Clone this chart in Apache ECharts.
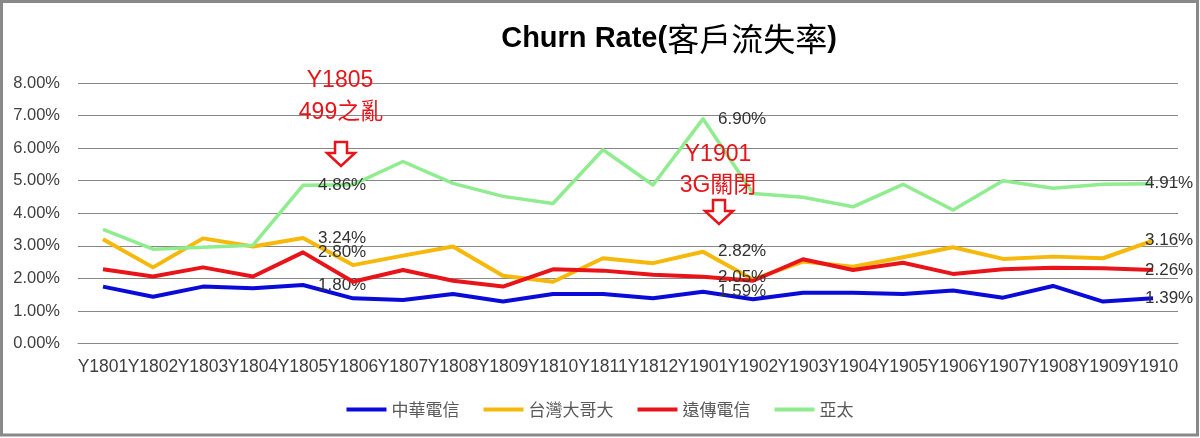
<!DOCTYPE html>
<html>
<head>
<meta charset="utf-8">
<script src="https://cdn.jsdelivr.net/npm/echarts@6/dist/echarts.min.js"></script>
<style>
  html, body { margin: 0; padding: 0; background: #fff; }
  #chart { width: 1200px; height: 438px; }
</style>
</head>
<body>
<div id="chart"></div>
<script>
// Monthly churn rate (%) per operator
const categories = ['Y1801','Y1802','Y1803','Y1804','Y1805','Y1806','Y1807','Y1808','Y1809','Y1810','Y1811',
                    'Y1812','Y1901','Y1902','Y1903','Y1904','Y1905','Y1906','Y1907','Y1908','Y1909','Y1910'];
const seriesNames = ['中華電信', '台灣大哥大', '遠傳電信', '亞太'];
const cht  = [1.75, 1.44, 1.75, 1.70, 1.80, 1.39, 1.34, 1.52, 1.29, 1.52, 1.52, 1.39, 1.59, 1.36, 1.56, 1.56, 1.52, 1.63, 1.41, 1.77, 1.29, 1.39];
const twm  = [3.20, 2.34, 3.23, 2.98, 3.24, 2.41, 2.70, 2.98, 2.08, 1.90, 2.62, 2.47, 2.82, 1.97, 2.52, 2.36, 2.65, 2.96, 2.60, 2.67, 2.62, 3.16];
const fet  = [2.28, 2.06, 2.34, 2.06, 2.80, 1.90, 2.26, 1.93, 1.75, 2.28, 2.24, 2.11, 2.05, 1.93, 2.59, 2.26, 2.48, 2.14, 2.28, 2.33, 2.31, 2.26];
const aptg = [3.51, 2.90, 2.96, 3.02, 4.86, 4.88, 5.59, 4.92, 4.52, 4.30, 5.95, 4.87, 6.90, 4.61, 4.49, 4.20, 4.89, 4.10, 5.00, 4.77, 4.89, 4.91];
// categories whose values are written next to the point
const labeledCats = ['Y1805', 'Y1901', 'Y1910'];
// event notes shown above the lines
const notes = [['Y1805', '499之亂'], ['Y1901', '3G關閉']];

const FONT = "'Liberation Sans', 'Noto Sans CJK TC', sans-serif";
const CJK = "'Noto Sans CJK TC', sans-serif";
const colors = ['#0b0bd9', '#f7b80c', '#e8141a', '#8fec8f'];
const widths = [4, 4, 4, 3.5];

function withLabels(values) {
  return values.map((v, i) => {
    const cat = categories[i];
    if (labeledCats.indexOf(cat) < 0) return v;
    const last = i === categories.length - 1;
    return {
      value: v,
      label: { show: true, position: 'right', distance: last ? -8 : 15 }
    };
  });
}

const seriesData = [cht, twm, fet, aptg];

function arrow(cx, y0) {
  return {
    type: 'polygon',
    shape: { points: [[cx - 6, y0], [cx + 6, y0], [cx + 6, y0 + 11], [cx + 14, y0 + 11],
                      [cx, y0 + 24], [cx - 14, y0 + 11], [cx - 6, y0 + 11]] },
    style: { fill: '#ffffff', stroke: '#e8141a', lineWidth: 2.5 },
    z: 20
  };
}
function noteText(x, y, text) {
  return {
    type: 'text', x: x, y: y,
    style: { text: text, fill: '#e8141a', font: '23px ' + FONT, align: 'center', verticalAlign: 'middle' },
    z: 20
  };
}

const chart = echarts.init(document.getElementById('chart'), null, { renderer: 'canvas' });
chart.setOption({
  animation: false,
  backgroundColor: '#ffffff',
  color: colors,
  grid: { left: 78, right: 22, top: 83, bottom: 94.4, containLabel: false },
  legend: {
    data: seriesNames,
    left: 'center',
    top: 396,
    icon: 'rect',
    itemWidth: 40,
    itemHeight: 4,
    itemGap: 24,
    textStyle: { fontFamily: CJK, fontSize: 17, color: '#595959' }
  },
  xAxis: {
    type: 'category',
    data: categories,
    boundaryGap: true,
    axisLine: { show: true, lineStyle: { color: '#878787', width: 1 } },
    axisTick: { show: false },
    axisLabel: { interval: 0, margin: 15, color: '#404040', fontFamily: FONT, fontSize: 17.5 }
  },
  yAxis: {
    type: 'value',
    min: 0, max: 8, interval: 1,
    axisLine: { show: false },
    axisTick: { show: false },
    splitLine: { lineStyle: { color: '#878787', width: 1 } },
    axisLabel: {
      margin: 18, color: '#404040', fontFamily: FONT, fontSize: 16.5,
      formatter: v => v.toFixed(2) + '%'
    }
  },
  series: seriesNames.map((name, k) => ({
    name: name,
    type: 'line',
    data: withLabels(seriesData[k]),
    symbol: 'circle',
    symbolSize: 0,
    showSymbol: true,
    lineStyle: { width: widths[k], color: colors[k], join: 'round' },
    itemStyle: { color: colors[k] },
    label: {
      show: false,
      color: '#333333', fontFamily: FONT, fontSize: 17,
      formatter: p => p.value.toFixed(2) + '%'
    },
    z: 2 + k
  })),
  graphic: [
    {
      type: 'rect',
      shape: { x: 1.5, y: 1.5, width: 1196, height: 433.5 },
      style: { fill: 'none', stroke: '#898989', lineWidth: 3 },
      silent: true
    },
    {
      type: 'text', x: 669, y: 39,
      style: {
        text: '{a|Churn Rate(}{b|客戶流失率}{a|)}',
        align: 'center', verticalAlign: 'middle',
        rich: {
          a: { fontFamily: FONT, fontWeight: 'bold', fontSize: 29, fill: '#000000' },
          b: { fontFamily: CJK, fontWeight: 'normal', fontSize: 32, fill: '#000000' }
        }
      }
    },
    noteText(340, 81, notes[0][0]),
    noteText(341, 113, notes[0][1]),
    arrow(341, 142),
    noteText(718, 155, notes[1][0]),
    noteText(718, 186, notes[1][1]),
    arrow(719, 200)
  ]
});
</script>
</body>
</html>
